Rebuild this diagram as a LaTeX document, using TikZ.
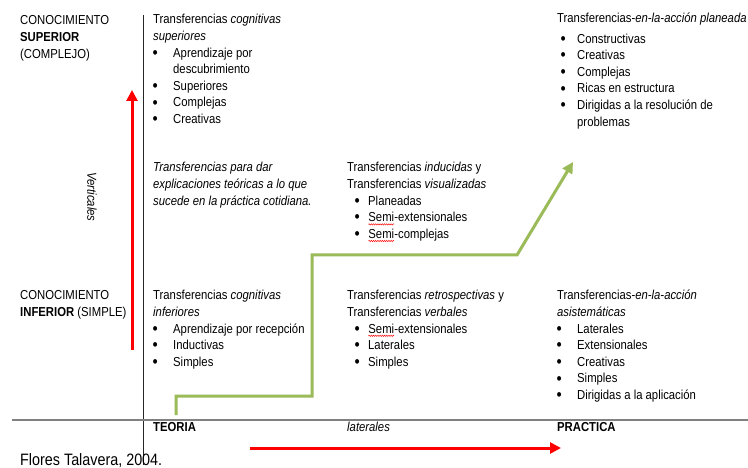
\documentclass[tikz,border=0pt]{standalone}
\usepackage{fontspec}
\setmainfont{Liberation Sans}[FakeStretch=0.87]
\usetikzlibrary{arrows.meta,decorations.pathmorphing}

\definecolor{axisgray}{HTML}{808080}
\definecolor{stepgreen}{HTML}{9BBB59}
\definecolor{arrowred}{HTML}{FF0000}

% red wavy spell-check underline under a word
\newcommand\spellmark[1]{\tikz[baseline=(w.base),x=1pt,y=1pt]{%
  \node[anchor=base west, inner sep=0pt, outer sep=0pt, rotate=0] (w) at (0,0) {#1};
  \draw[red, line width=0.45pt, decorate,
    decoration={snake, amplitude=0.7pt, segment length=2.2pt}]
    ([yshift=-2.6pt]w.base west) -- ([yshift=-2.6pt]w.base east);}}
% a block of left-aligned lines whose baseline is the first line
\newcommand\blk[1]{\begin{tabular}[t]{@{}l@{}}#1\end{tabular}}
% a bold list bullet
\newcommand\listdot{\raisebox{-1.2pt}{\fontsize{17}{16}\selectfont •}}
% bullets: offset of the dot, then room up to the item text
\newcommand\bw{\hspace*{-0.5pt}\makebox[20.5pt][l]{\listdot}}
\newcommand\bt{\hspace*{3.5pt}\makebox[16.5pt][l]{\listdot}}
\newcommand\bm{\hspace*{7.5pt}\makebox[13.5pt][l]{\listdot}}

\tikzset{
  txt/.style={anchor=base west, inner sep=0pt, align=left,
    font=\fontsize{13}{16.6}\selectfont},
  axis/.style={line width=1pt},
  redarrow/.style={draw=arrowred, line width=3pt,
    -{Triangle[width=11pt,length=11pt]}},
  greenstep/.style={draw=stepgreen, line width=3pt, line join=miter,
    -{Triangle[width=11pt,length=11pt]}},
}

\begin{document}
\begin{tikzpicture}[x=1pt,y=-1pt]
\useasboundingbox (0,0) rectangle (748,468);
\fill[white] (0,0) rectangle (748,468);

% axes
\coordinate (vtop) at (143,15);
\coordinate (vbot) at (143,465);
\coordinate (hleft) at (12,420);
\coordinate (hright) at (748,420);
\draw[axis, black!85] (vtop) -- (vbot);
\draw[axis, draw=axisgray, line width=1.3pt] (hleft) -- (hright);

% red direction arrows
\coordinate (vrs) at (132,350);
\coordinate (vre) at (132,90);
\draw[redarrow] (vrs) -- (vre);
\coordinate (hrs) at (250,448);
\coordinate (hre) at (561,448);
\draw[redarrow] (hrs) -- (hre);

% green staircase
\coordinate (g0) at (176,415);
\coordinate (g1) at (176,396);
\coordinate (g2) at (312,396);
\coordinate (g3) at (312,255);
\coordinate (g4) at (517,255);
\coordinate (g5) at (573,162);
\draw[greenstep] (g0) -- (g1) -- (g2) -- (g3) -- (g4) -- (g5);

% row labels
\node[txt] (sup) at (20,25) {\blk{CONOCIMIENTO\\\textbf{SUPERIOR}\\(COMPLEJO)}};
\node[txt] (inf) at (20,300) {\blk{CONOCIMIENTO\\\textbf{INFERIOR} (SIMPLE)}};
\node[txt, rotate=-90, anchor=center] (vert) at (92,197) {\textit{Verticales}};

% upper row
\node[txt] (cogsup) at (153,24) {\blk{Transferencias \textit{cognitivas}\\
  \textit{superiores}\\
  \bw Aprendizaje por\\
  \hspace*{20pt}descubrimiento\\
  \bw Superiores\\
  \bw Complejas\\
  \bw Creativas}};
\node[txt] (plan) at (557,23) {\blk{Transferencias-\textit{en-la-acción planeada}\\[3.5pt]
  \bt Constructivas\\
  \bt Creativas\\
  \bt Complejas\\
  \bt Ricas en estructura\\
  \bt Dirigidas a la resolución de\\
  \hspace*{20pt}problemas}};

% middle row
\node[txt] (teo) at (153,172) {\blk{\textit{Transferencias para dar}\\
  \textit{explicaciones teóricas a lo que}\\
  \textit{sucede en la práctica cotidiana.}}};
\node[txt] (induc) at (347,172) {\blk{Transferencias \textit{inducidas} y\\
  Transferencias \textit{visualizadas}\\
  \bm Planeadas\\
  \bm \spellmark{Semi}-extensionales\\
  \bm \spellmark{Semi}-complejas}};

% lower row
\node[txt] (coginf) at (153,300) {\blk{Transferencias \textit{cognitivas}\\
  \textit{inferiores}\\
  \bw Aprendizaje por recepción\\
  \bw Inductivas\\
  \bw Simples}};
\node[txt] (retro) at (347,300) {\blk{Transferencias \textit{retrospectivas} y\\
  Transferencias \textit{verbales}\\
  \bm \spellmark{Semi}-extensionales\\
  \bm Laterales\\
  \bm Simples}};
\node[txt] (asis) at (557,300) {\blk{Transferencias-\textit{en-la-acción}\\
  \textit{asistemáticas}\\
  \bw Laterales\\
  \bw Extensionales\\
  \bw Creativas\\
  \bw Simples\\
  \bw Dirigidas a la aplicación}};

% axis labels
\node[txt] (teoria) at (153,431) {\textbf{TEORIA}};
\node[txt] (lat) at (347,431) {\textit{laterales}};
\node[txt] (prac) at (557,431) {\textbf{PRACTICA}};

% source
\node[txt, font=\fontsize{16.5}{19}\selectfont] (src) at (20,465) {Flores Talavera, 2004.};
\end{tikzpicture}
\end{document}
